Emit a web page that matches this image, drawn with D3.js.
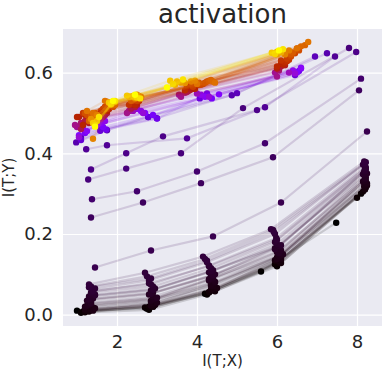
<!DOCTYPE html>
<html><head><meta charset="utf-8">
<script src="https://cdn.jsdelivr.net/npm/d3@7"></script>
<style>
body{margin:0;background:#fff}
svg{display:block}
text{font-family:"DejaVu Sans",sans-serif;fill:#262626}
</style>
</head><body>
<svg id="c" width="387" height="374"></svg>
<script>
// colour position (0..1 on the colormap) of each epoch
const epochT = [
  0.000,0.002,0.004,0.006,0.008,0.010,0.012,0.014,0.016,0.018,
  0.020,0.022,0.024,0.026,0.028,0.030,0.032,0.034,0.036,0.038,
  0.05,0.06,0.07,0.08,0.09,0.10,0.12,0.13,
  0.16,0.19,0.22,0.25,0.28,0.31,
  0.40,0.43,0.46,0.49,0.52,0.55,0.58,
  0.62,0.65,0.68,0.71,0.74,0.77,0.80,
  0.85,0.88,0.92,0.96,1.00,
  0.001,0.005,0.009,0.013,0.017,0.021,0.025,0.029,0.033,0.037,
  0.34,0.37,0.41,0.45,0.48,0.51,0.54,0.57,0.60,
  0.64,0.67,0.70,0.73,0.76,0.79,0.83,0.90,0.94
];
// I(T;X) per epoch, one value per layer
const ixt = [
  [1.00,2.75,4.20,5.60,7.48],[1.15,2.70,4.30,5.95,8.00],[1.20,2.80,4.40,6.00,8.15],[1.25,2.90,4.45,6.10,8.20],
  [1.30,2.95,4.35,6.05,8.22],[1.35,2.85,4.50,5.95,8.18],[1.40,2.90,4.40,6.10,8.20],[1.45,3.00,4.35,6.00,8.25],
  [1.20,2.85,4.45,6.05,8.15],[1.30,2.95,4.30,6.15,8.20],[1.35,2.90,4.40,6.00,8.22],[1.25,2.80,4.35,6.10,8.20],
  [1.40,2.90,4.45,5.95,8.25],[1.30,2.85,4.30,6.05,8.18],[1.45,2.95,4.40,6.00,8.22],[1.35,2.90,4.35,5.95,8.20],
  [1.40,2.85,4.30,5.98,8.20],[1.45,2.80,4.25,5.95,8.15],[1.35,2.75,4.20,5.90,8.22],[1.30,2.70,4.15,5.85,8.18],
  [1.45,2.85,4.40,6.10,8.25],[1.35,2.65,4.10,5.90,8.05],[1.375,2.50,4.00,5.70,8.10],[1.28,2.23,3.60,5.15,7.80],
  [1.35,2.23,3.15,5.50,7.98],[1.23,1.75,3.75,5.70,7.45],[0.98,1.75,2.78,4.87,7.25],[1.10,1.60,3.00,5.00,6.95],
  [1.10,1.58,2.78,4.07,6.45],[1.08,1.73,3.00,4.25,6.55],[1.20,1.65,2.90,4.37,6.60],[1.05,1.50,2.70,4.55,6.50],
  [1.25,1.60,2.60,4.20,6.60],[1.15,1.70,2.50,4.10,6.40],
  [1.00,1.55,2.30,3.55,5.95],[1.10,1.65,2.35,3.70,6.05],[1.20,1.75,2.45,3.80,6.10],[1.05,1.60,2.40,3.90,6.00],
  [1.15,1.80,2.50,3.75,6.15],[1.30,1.70,2.55,4.00,6.20],[1.25,1.85,2.30,3.85,6.10],
  [1.30,1.75,2.40,3.90,6.25],[1.40,1.85,2.50,4.10,6.35],[1.20,1.90,2.55,4.20,6.50],[1.35,1.80,2.35,4.30,6.40],
  [1.45,1.95,2.60,4.40,6.60],[1.25,1.70,2.45,4.00,6.78],[1.40,1.85,2.50,3.95,6.20],
  [1.45,1.85,2.30,3.60,6.00],[1.50,1.90,2.45,3.45,6.10],[1.40,1.80,2.25,3.33,5.87],[1.55,1.95,2.58,3.65,6.15],
  [1.45,1.90,2.45,3.25,6.05],
  [1.10,2.80,4.25,6.00,8.10],[1.30,2.90,4.30,6.05,8.20],[1.20,2.95,4.40,6.10,8.25],[1.40,2.85,4.35,6.00,8.18],
  [1.25,2.90,4.45,6.10,8.22],[1.35,3.00,4.30,6.05,8.20],[1.30,2.85,4.40,5.95,8.15],[1.45,2.90,4.35,6.10,8.20],
  [1.40,2.80,4.30,6.00,8.22],[1.30,2.85,4.25,5.92,8.20],
  [1.05,1.45,2.65,4.30,6.45],[1.15,1.60,2.40,4.00,6.30],[0.95,1.50,2.25,3.60,6.00],[1.10,1.70,2.35,3.75,6.05],
  [1.30,1.60,2.50,3.85,6.20],[1.00,1.75,2.40,3.95,6.10],[1.20,1.80,2.45,3.70,6.00],[1.35,1.65,2.55,3.90,6.25],
  [1.15,1.90,2.35,4.05,6.30],
  [1.35,1.70,2.50,4.15,6.45],[1.25,1.85,2.60,4.25,6.55],[1.45,1.75,2.40,4.05,6.35],[1.30,1.95,2.55,4.35,6.70],
  [1.40,1.80,2.50,4.45,6.50],[1.50,1.90,2.40,3.85,6.30],[1.35,1.85,2.35,3.70,6.10],[1.50,1.95,2.40,3.50,6.00],
  [1.45,1.85,2.50,3.40,5.95]
];
// I(T;Y) per epoch, one value per layer
const iyt = [
  [0.010,0.015,0.052,0.107,0.228],[0.008,0.018,0.055,0.125,0.290],[0.006,0.020,0.060,0.130,0.305],[0.010,0.020,0.058,0.128,0.310],
  [0.012,0.024,0.062,0.132,0.315],[0.014,0.022,0.066,0.135,0.318],[0.010,0.028,0.070,0.140,0.322],[0.016,0.030,0.075,0.138,0.325],
  [0.020,0.035,0.080,0.145,0.330],[0.025,0.040,0.085,0.150,0.335],[0.030,0.045,0.090,0.155,0.340],[0.035,0.050,0.095,0.160,0.345],
  [0.040,0.055,0.100,0.165,0.350],[0.045,0.060,0.105,0.170,0.355],[0.050,0.065,0.110,0.175,0.360],[0.055,0.070,0.115,0.180,0.362],
  [0.060,0.075,0.122,0.190,0.368],[0.065,0.085,0.130,0.200,0.372],[0.070,0.095,0.138,0.210,0.378],[0.075,0.104,0.144,0.212,0.380],
  [0.117,0.159,0.194,0.278,0.454],[0.241,0.278,0.326,0.390,0.556],[0.286,0.306,0.355,0.425,0.585],[0.335,0.362,0.400,0.512,0.661],
  [0.360,0.400,0.442,0.507,0.651],[0.410,0.420,0.437,0.514,0.640],[0.427,0.457,0.490,0.544,0.648],[0.440,0.460,0.487,0.549,0.640],
  [0.433,0.456,0.490,0.536,0.594],[0.466,0.459,0.486,0.548,0.604],[0.450,0.465,0.495,0.536,0.610],[0.445,0.470,0.500,0.546,0.600],
  [0.455,0.475,0.505,0.540,0.612],[0.460,0.480,0.510,0.545,0.605],
  [0.465,0.485,0.505,0.545,0.600],[0.475,0.490,0.510,0.550,0.605],[0.480,0.500,0.515,0.555,0.615],[0.490,0.505,0.520,0.560,0.610],
  [0.470,0.510,0.525,0.565,0.620],[0.485,0.515,0.530,0.570,0.625],[0.500,0.520,0.520,0.575,0.630],
  [0.490,0.510,0.530,0.565,0.635],[0.480,0.520,0.535,0.570,0.640],[0.500,0.515,0.540,0.575,0.660],[0.495,0.525,0.530,0.580,0.650],
  [0.490,0.520,0.540,0.578,0.665],[0.505,0.530,0.535,0.572,0.676],[0.436,0.525,0.545,0.580,0.645],
  [0.470,0.520,0.540,0.575,0.645],[0.480,0.525,0.538,0.570,0.650],[0.475,0.526,0.543,0.580,0.649],[0.490,0.530,0.536,0.583,0.658],
  [0.466,0.530,0.545,0.563,0.655],
  [0.005,0.012,0.050,0.120,0.300],[0.008,0.020,0.056,0.128,0.312],[0.012,0.026,0.064,0.136,0.320],[0.018,0.032,0.072,0.142,0.327],
  [0.022,0.038,0.082,0.148,0.332],[0.028,0.042,0.088,0.152,0.338],[0.038,0.052,0.098,0.162,0.348],[0.048,0.062,0.108,0.172,0.357],
  [0.058,0.078,0.120,0.186,0.365],[0.068,0.090,0.134,0.205,0.375],
  [0.440,0.468,0.500,0.540,0.598],[0.470,0.485,0.505,0.548,0.600],[0.470,0.490,0.500,0.540,0.590],[0.460,0.495,0.512,0.552,0.612],
  [0.475,0.500,0.520,0.558,0.618],[0.490,0.505,0.525,0.560,0.622],[0.495,0.515,0.520,0.556,0.615],[0.480,0.510,0.530,0.568,0.628],
  [0.500,0.520,0.535,0.570,0.632],
  [0.485,0.515,0.530,0.572,0.648],[0.495,0.520,0.538,0.578,0.655],[0.500,0.528,0.532,0.575,0.645],[0.480,0.520,0.542,0.582,0.668],
  [0.500,0.525,0.537,0.575,0.660],[0.495,0.528,0.540,0.578,0.655],[0.485,0.522,0.540,0.574,0.652],[0.480,0.528,0.542,0.578,0.652],
  [0.470,0.522,0.538,0.572,0.646]
];
const xTicks = [2,4,6,8];
const yTicks = [0.0,0.2,0.4,0.6];
const title = "activation";
const xLabel = "I(T;X)";
const yLabel = "I(T;Y)";

const L = 63, R = 382, T = 29, B = 326;
const svg = d3.select("#c");
const x = d3.scaleLinear().domain([0.65, 8.625]).range([L, R]);
const y = d3.scaleLinear().domain([-0.028, 0.708]).range([B, T]);

// gnuplot colormap
function gnuplot(t){
  const r = Math.sqrt(t), g = t*t*t, b = Math.max(0, Math.sin(2*Math.PI*t));
  return d3.rgb(Math.round(255*r), Math.round(255*g), Math.round(255*Math.min(1,b)));
}

svg.append("rect").attr("x",L).attr("y",T).attr("width",R-L).attr("height",B-T).attr("fill","#eaeaf2");

const gx = svg.append("g").attr("transform",`translate(0,${B})`)
  .call(d3.axisBottom(x).tickValues(xTicks).tickSize(-(B-T)).tickPadding(9).tickFormat(d3.format("d")));
const gy = svg.append("g").attr("transform",`translate(${L},0)`)
  .call(d3.axisLeft(y).tickValues(yTicks).tickSize(-(R-L)).tickPadding(10).tickFormat(d3.format(".1f")));
[gx,gy].forEach(g=>{
  g.select(".domain").remove();
  g.selectAll(".tick line").attr("stroke","#fff").attr("stroke-width",1.2);
  g.selectAll(".tick text").attr("fill","#262626").style("font-size","18px").style("font-family","DejaVu Sans");
});

svg.append("clipPath").attr("id","clp").append("rect").attr("x",L).attr("y",T).attr("width",R-L).attr("height",B-T);
const plot = svg.append("g").attr("clip-path","url(#clp)");
const line = d3.line().x(d=>x(d[0])).y(d=>y(d[1]));

const order = d3.range(epochT.length).sort((a,b)=>epochT[a]-epochT[b]);
order.forEach(i=>{
  const t = epochT[i];
  const pts = ixt[i].map((v,j)=>[v, iyt[i][j]]);
  const c = gnuplot(t);
  plot.append("path").datum(pts).attr("d",line).attr("fill","none")
    .attr("stroke",c).attr("stroke-opacity",0.15).attr("stroke-width",2.2);
  plot.selectAll(null).data(pts).enter().append("circle")
    .attr("cx",d=>x(d[0])).attr("cy",d=>y(d[1])).attr("r",3.2).attr("fill",c);
});

svg.append("text").attr("x",(L+R)/2).attr("y",23).attr("text-anchor","middle")
  .style("font-size","26px").text(title);
svg.append("text").attr("x",(L+R)/2).attr("y",366).attr("text-anchor","middle")
  .style("font-size","15px").text(xLabel);
svg.append("text").attr("transform",`translate(14,${(T+B)/2}) rotate(-90)`).attr("text-anchor","middle")
  .style("font-size","15px").text(yLabel);
</script>
</body></html>
